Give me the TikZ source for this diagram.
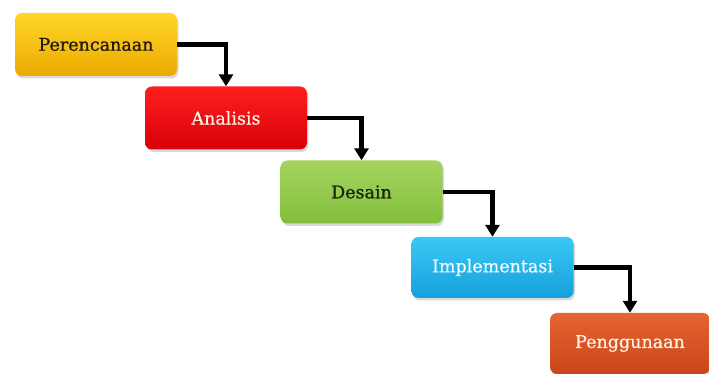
\documentclass[tikz,border=0pt]{standalone}
\usepackage{fontspec}
\setmainfont{DejaVu Serif}
\newfontfamily\boxfont{DejaVu Serif}[FakeBold=0.8]
\usetikzlibrary{arrows.meta,shadows}
\begin{document}
\begin{tikzpicture}[x=1pt,y=1pt,
  stepbox/.style={rounded corners=7pt, minimum width=162pt, minimum height=63pt,
    inner sep=0pt, font=\boxfont\fontsize{17.5}{20}\selectfont,
    drop shadow={shadow xshift=1.5pt, shadow yshift=-2.5pt, opacity=0.3}},
  flow/.style={line width=4.5pt, -{Triangle[width=14pt,length=12pt]}}]
\useasboundingbox (0,0) rectangle (709,374);
\node[stepbox, top color={rgb,255:red,255;green,214;blue,40}, bottom color={rgb,255:red,236;green,170;blue,0},
      text={rgb,255:red,35;green,25;blue,10}] (p) at (96,329.5) {Perencanaan};
\node[stepbox, top color={rgb,255:red,255;green,30;blue,30}, bottom color={rgb,255:red,215;green,0;blue,10},
      text={rgb,255:red,255;green,240;blue,225}] (a) at (226,256) {Analisis};
\node[stepbox, top color={rgb,255:red,165;green,212;blue,95}, bottom color={rgb,255:red,130;green,190;blue,60},
      text={rgb,255:red,25;green,35;blue,15}] (d) at (361.5,182) {Desain};
\node[stepbox, minimum height=61pt, top color={rgb,255:red,60;green,200;blue,245}, bottom color={rgb,255:red,20;green,160;blue,220},
      text={rgb,255:red,240;green,250;blue,255}] (i) at (492.5,106.5) {Implementasi};
\node[stepbox, minimum width=160pt, minimum height=61pt, top color={rgb,255:red,230;green,100;blue,50}, bottom color={rgb,255:red,200;green,70;blue,25},
      text={rgb,255:red,255;green,240;blue,225}] (g) at (630,30.5) {Penggunaan};
\draw[flow] (p.east) -| (a.north);
\draw[flow] (a.east) -| (d.north);
\draw[flow] (d.east) -| (i.north);
\draw[flow] (i.east) -| (g.north);
\end{tikzpicture}
\end{document}
